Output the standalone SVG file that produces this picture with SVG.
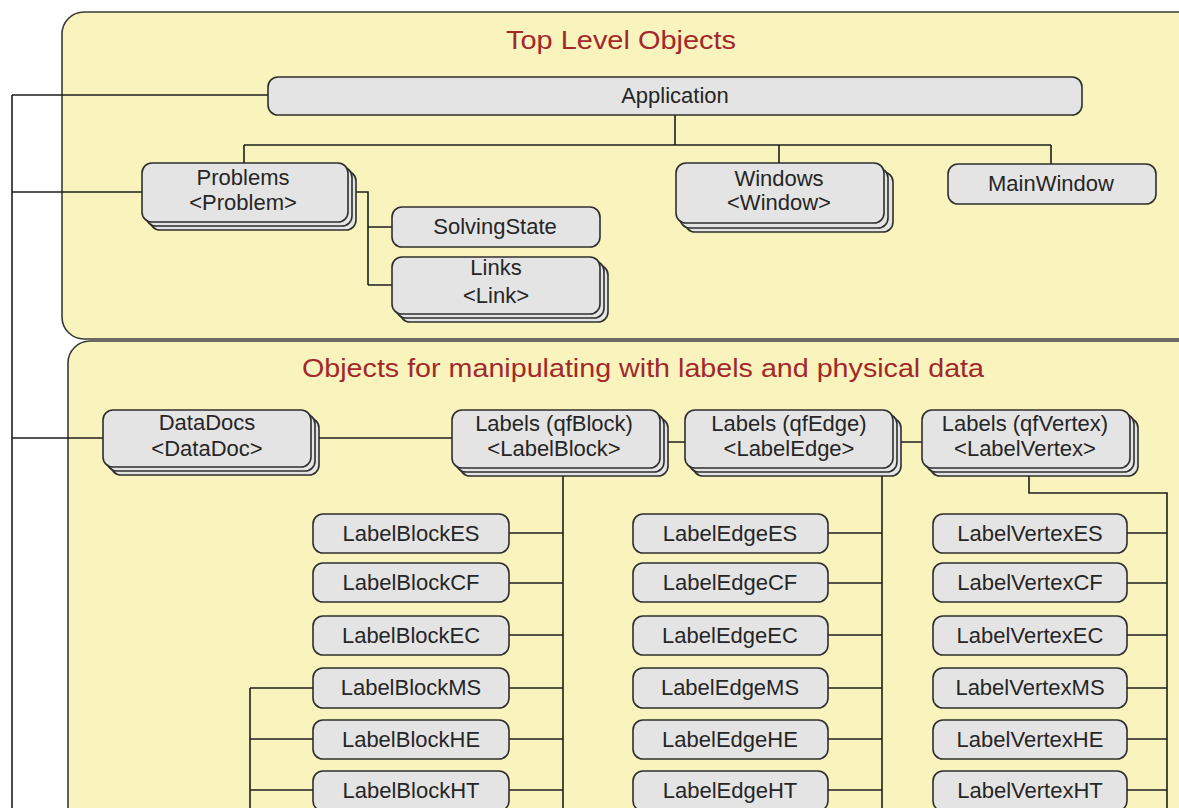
<svg xmlns="http://www.w3.org/2000/svg" width="1179" height="808" viewBox="0 0 1179 808">
<style>
.panel{fill:#F9F4BD;stroke:#3a3a3a;stroke-width:1.6}
.box{fill:#E4E4E4;stroke:#2e2e2e;stroke-width:1.6}
.t{font-family:"Liberation Sans",Arial,sans-serif;font-size:22px;fill:#262626;text-anchor:middle}
.title{font-family:"Liberation Sans",Arial,sans-serif;font-size:25px;fill:#A2282A;text-anchor:middle}
.c{fill:none;stroke:#1e1e1e;stroke-width:1.6}
</style>
<rect width="1179" height="808" fill="#ffffff"/>
<g id="panel-top">
<rect class="panel" x="62" y="12" width="1140" height="327" rx="22"/>
<text class="title" x="621" y="49" textLength="230" lengthAdjust="spacingAndGlyphs">Top Level Objects</text>
</g>
<g id="panel-labels">
<rect class="panel" x="68" y="341" width="1140" height="600" rx="22"/>
<text class="title" x="643" y="377" textLength="682" lengthAdjust="spacingAndGlyphs">Objects for manipulating with labels and physical data</text>
</g>
<g id="connectors">
<path class="c" d="M12,95 V808 M12,95 H268 M12,192 H142 M12,438 H103"/>
<path class="c" d="M675,115 V145 M244,145 H1051 M244,145 V163 M779,145 V163 M1051,145 V164"/>
<path class="c" d="M356,192 H368 V285 M368,227 H392 M368,285 H392"/>
<path class="c" d="M318,438 H452 M666,442 H685 M898,442 H922"/>
<path class="c" d="M563,474 V808 M509,533 H563 M509,583 H563 M509,635 H563 M509,688 H563 M509,739 H563 M509,790 H563"/>
<path class="c" d="M250,688 V808 M250,688 H313 M250,739 H313 M250,790 H313"/>
<path class="c" d="M882,474 V808 M828,533 H882 M828,583 H882 M828,635 H882 M828,688 H882 M828,739 H882 M828,790 H882"/>
<path class="c" d="M1029,475 V493 H1167 V808 M1127,533 H1167 M1127,583 H1167 M1127,635 H1167 M1127,688 H1167 M1127,739 H1167 M1127,790 H1167"/>
</g>
<g id="application">
<rect class="box" x="268" y="77" width="814" height="38" rx="10"/>
<text class="t" x="675" y="103">Application</text>
</g>
<g id="problems">
<rect class="box" x="150" y="171" width="206" height="59" rx="10"/>
<rect class="box" x="146" y="167" width="206" height="59" rx="10"/>
<rect class="box" x="142" y="163" width="206" height="59" rx="10"/>
<text class="t" x="243" y="185">Problems</text>
<text class="t" x="243" y="210">&lt;Problem&gt;</text>
</g>
<g id="solvingstate">
<rect class="box" x="392" y="207" width="208" height="40" rx="10"/>
<text class="t" x="495" y="234">SolvingState</text>
</g>
<g id="links">
<rect class="box" x="400" y="265" width="208" height="57" rx="10"/>
<rect class="box" x="396" y="261" width="208" height="57" rx="10"/>
<rect class="box" x="392" y="257" width="208" height="57" rx="10"/>
<text class="t" x="496" y="275">Links</text>
<text class="t" x="496" y="303">&lt;Link&gt;</text>
</g>
<g id="windows">
<rect class="box" x="685" y="172" width="208" height="60" rx="10"/>
<rect class="box" x="680" y="168" width="208" height="60" rx="10"/>
<rect class="box" x="676" y="163" width="208" height="60" rx="10"/>
<text class="t" x="779" y="186">Windows</text>
<text class="t" x="779" y="210">&lt;Window&gt;</text>
</g>
<g id="mainwindow">
<rect class="box" x="948" y="164" width="208" height="40" rx="10"/>
<text class="t" x="1051" y="191">MainWindow</text>
</g>
<g id="datadocs">
<rect class="box" x="111" y="418" width="208" height="57" rx="10"/>
<rect class="box" x="107" y="414" width="208" height="57" rx="10"/>
<rect class="box" x="103" y="410" width="208" height="57" rx="10"/>
<text class="t" x="207" y="430">DataDocs</text>
<text class="t" x="207" y="456">&lt;DataDoc&gt;</text>
</g>
<g id="labels-block">
<rect class="box" x="460" y="418" width="208" height="58" rx="10"/>
<rect class="box" x="456" y="414" width="208" height="58" rx="10"/>
<rect class="box" x="452" y="410" width="208" height="58" rx="10"/>
<text class="t" x="554" y="431">Labels (qfBlock)</text>
<text class="t" x="554" y="456">&lt;LabelBlock&gt;</text>
</g>
<g id="labels-edge">
<rect class="box" x="693" y="418" width="208" height="58" rx="10"/>
<rect class="box" x="689" y="414" width="208" height="58" rx="10"/>
<rect class="box" x="685" y="410" width="208" height="58" rx="10"/>
<text class="t" x="789" y="431">Labels (qfEdge)</text>
<text class="t" x="789" y="456">&lt;LabelEdge&gt;</text>
</g>
<g id="labels-vertex">
<rect class="box" x="930" y="418" width="208" height="58" rx="10"/>
<rect class="box" x="926" y="414" width="208" height="58" rx="10"/>
<rect class="box" x="922" y="410" width="208" height="58" rx="10"/>
<text class="t" x="1025" y="431">Labels (qfVertex)</text>
<text class="t" x="1025" y="456">&lt;LabelVertex&gt;</text>
</g>
<g id="labelblock-es"><rect class="box" x="313" y="514" width="196" height="39" rx="10"/><text class="t" x="411" y="541">LabelBlockES</text></g>
<g id="labelblock-cf"><rect class="box" x="313" y="563" width="196" height="39" rx="10"/><text class="t" x="411" y="590">LabelBlockCF</text></g>
<g id="labelblock-ec"><rect class="box" x="313" y="616" width="196" height="39" rx="10"/><text class="t" x="411" y="643">LabelBlockEC</text></g>
<g id="labelblock-ms"><rect class="box" x="313" y="668" width="196" height="40" rx="10"/><text class="t" x="411" y="695">LabelBlockMS</text></g>
<g id="labelblock-he"><rect class="box" x="313" y="720" width="196" height="39" rx="10"/><text class="t" x="411" y="747">LabelBlockHE</text></g>
<g id="labelblock-ht"><rect class="box" x="313" y="771" width="196" height="40" rx="10"/><text class="t" x="411" y="798">LabelBlockHT</text></g>
<g id="labeledge-es"><rect class="box" x="633" y="514" width="195" height="39" rx="10"/><text class="t" x="730" y="541">LabelEdgeES</text></g>
<g id="labeledge-cf"><rect class="box" x="633" y="563" width="195" height="39" rx="10"/><text class="t" x="730" y="590">LabelEdgeCF</text></g>
<g id="labeledge-ec"><rect class="box" x="633" y="616" width="195" height="39" rx="10"/><text class="t" x="730" y="643">LabelEdgeEC</text></g>
<g id="labeledge-ms"><rect class="box" x="633" y="668" width="195" height="40" rx="10"/><text class="t" x="730" y="695">LabelEdgeMS</text></g>
<g id="labeledge-he"><rect class="box" x="633" y="720" width="195" height="39" rx="10"/><text class="t" x="730" y="747">LabelEdgeHE</text></g>
<g id="labeledge-ht"><rect class="box" x="633" y="771" width="195" height="40" rx="10"/><text class="t" x="730" y="798">LabelEdgeHT</text></g>
<g id="labelvertex-es"><rect class="box" x="933" y="514" width="194" height="39" rx="10"/><text class="t" x="1030" y="541">LabelVertexES</text></g>
<g id="labelvertex-cf"><rect class="box" x="933" y="563" width="194" height="39" rx="10"/><text class="t" x="1030" y="590">LabelVertexCF</text></g>
<g id="labelvertex-ec"><rect class="box" x="933" y="616" width="194" height="39" rx="10"/><text class="t" x="1030" y="643">LabelVertexEC</text></g>
<g id="labelvertex-ms"><rect class="box" x="933" y="668" width="194" height="40" rx="10"/><text class="t" x="1030" y="695">LabelVertexMS</text></g>
<g id="labelvertex-he"><rect class="box" x="933" y="720" width="194" height="39" rx="10"/><text class="t" x="1030" y="747">LabelVertexHE</text></g>
<g id="labelvertex-ht"><rect class="box" x="933" y="771" width="194" height="40" rx="10"/><text class="t" x="1030" y="798">LabelVertexHT</text></g>
</svg>
